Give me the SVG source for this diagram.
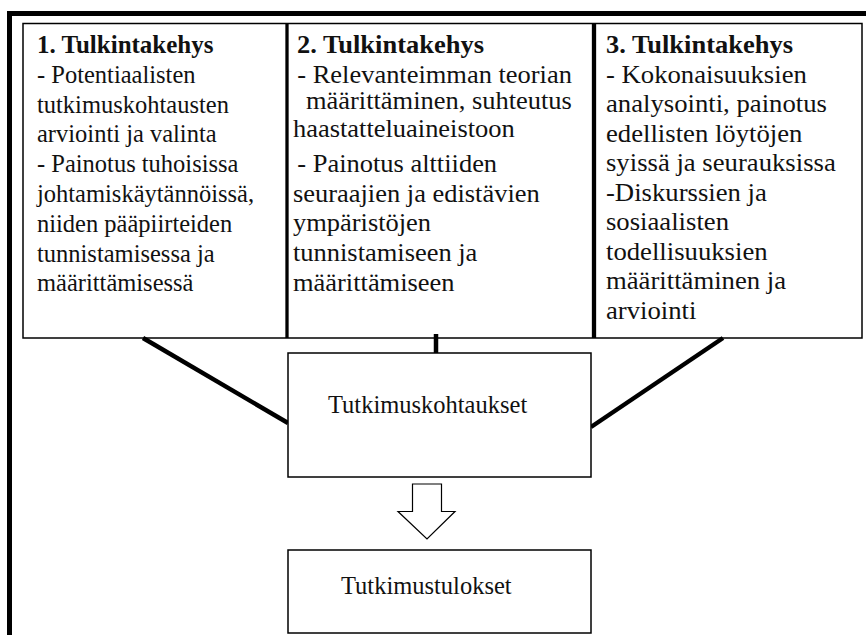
<svg xmlns="http://www.w3.org/2000/svg" width="866" height="635" viewBox="0 0 866 635">
<style>
.t{font-family:"Liberation Serif","Times New Roman",serif;font-size:24.5px;fill:#111;}
.h{font-weight:bold;font-size:25px;}
.box{fill:#fff;stroke:#000;stroke-width:1.5;}
.thick{stroke:#000;fill:none;}
</style>
<rect width="866" height="635" fill="#fff"/>
<g id="frame">
<path d="M9.5,635 V13.5 H866" class="thick" stroke-width="5"/>
</g>
<g id="top-boxes">
<rect class="box" x="23" y="23.5" width="839" height="314.5"/>
<line x1="287" y1="23" x2="287" y2="338" class="thick" stroke-width="3.3"/>
<line x1="594" y1="23" x2="594" y2="338" class="thick" stroke-width="4.3"/>
</g>
<g id="node-1">
<text class="t h" x="37" y="53">1. Tulkintakehys</text>
<text class="t" x="37" y="83">- Potentiaalisten</text>
<text class="t" x="37" y="112.5">tutkimuskohtausten</text>
<text class="t" x="37" y="142">arviointi ja valinta</text>
<text class="t" x="37" y="172">- Painotus tuhoisissa</text>
<text class="t" x="37" y="201.5">johtamiskäytännöissä,</text>
<text class="t" x="37" y="231.5">niiden pääpiirteiden</text>
<text class="t" x="37" y="261.5">tunnistamisessa ja</text>
<text class="t" x="37" y="291">määrittämisessä</text>
</g>
<g id="node-2">
<text class="t h" x="297" y="53" transform="translate(297,0) scale(1.06,1) translate(-297,0)">2. Tulkintakehys</text>
<g transform="translate(293,0) scale(1.08,1) translate(-293,0)">
<text class="t" x="297" y="83">- Relevanteimman teorian</text>
<text class="t" x="305" y="109.5">määrittäminen, suhteutus</text>
<text class="t" x="293" y="137.5">haastatteluaineistoon</text>
<text class="t" x="297" y="172.5">- Painotus alttiiden</text>
<text class="t" x="293" y="202.5">seuraajien ja edistävien</text>
<text class="t" x="293" y="231.5">ympäristöjen</text>
<text class="t" x="293" y="261.5">tunnistamiseen ja</text>
<text class="t" x="293" y="291">määrittämiseen</text>
</g>
</g>
<g id="node-3">
<text class="t h" x="606" y="53" transform="translate(606,0) scale(1.06,1) translate(-606,0)">3. Tulkintakehys</text>
<g transform="translate(606,0) scale(1.09,1) translate(-606,0)">
<text class="t" x="606" y="83">- Kokonaisuuksien</text>
<text class="t" x="606" y="112.5">analysointi, painotus</text>
<text class="t" x="606" y="142">edellisten löytöjen</text>
<text class="t" x="606" y="171.5">syissä ja seurauksissa</text>
<text class="t" x="606" y="201">-Diskurssien ja</text>
<text class="t" x="606" y="230.5">sosiaalisten</text>
<text class="t" x="606" y="260">todellisuuksien</text>
<text class="t" x="606" y="289.5">määrittäminen ja</text>
<text class="t" x="606" y="319">arviointi</text>
</g>
</g>
<g id="connectors">
<line x1="143" y1="338" x2="288" y2="423" class="thick" stroke-width="4.5"/>
<line x1="723" y1="338" x2="591" y2="427" class="thick" stroke-width="4.5"/>
<line x1="436" y1="334" x2="436" y2="361" class="thick" stroke-width="4.5"/>
<polygon points="412.5,484 441.5,484 441.5,511.5 455,511.5 427,539 398,511.5 412.5,511.5" fill="#fff" stroke="#000" stroke-width="1.2"/>
</g>
<g id="node-tutkimuskohtaukset">
<rect class="box" x="288" y="353" width="303" height="124"/>
<text class="t" x="328" y="413">Tutkimuskohtaukset</text>
</g>
<g id="node-tutkimustulokset">
<rect class="box" x="288" y="550" width="303" height="83"/>
<text class="t" x="341" y="593.5">Tutkimustulokset</text>
</g>
</svg>
